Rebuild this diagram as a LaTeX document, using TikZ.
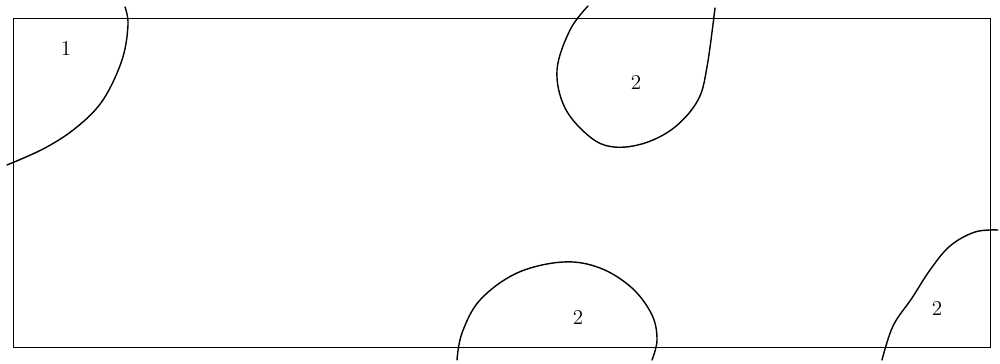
\documentclass[tikz,border=0pt]{standalone}
\usepackage{tikz}

\begin{document}
\begin{tikzpicture}[
      x=0.02cm, y=-0.02cm,
      frame/.style={draw, line width=0.5pt},
      boundary/.style={draw, line width=0.8pt, line cap=round},
      region/.style={font=\large, inner sep=1pt}
    ]
      \useasboundingbox (0,0) rectangle (1000,364);

      % Outer frame
      \draw[frame] (13,18) rectangle (990,347);

      % Boundaries
      \draw[boundary] plot[smooth, tension=0.6] coordinates {
        (125,7) (128,25) (122,60) (103,100) (77,127) (45,148) (7,165)};
      \draw[boundary] plot[smooth, tension=0.6] coordinates {
        (588,6) (570,30) (557,70) (565,108) (590,137) (614,147)
        (645,143) (675,127) (698,100) (707,67) (715,8)};
      \draw[boundary] plot[smooth, tension=0.6] coordinates {
        (457,360) (462,333) (480,300) (517,273) (563,262) (600,268)
        (632,288) (652,315) (657,340) (652,360)};
      \draw[boundary] plot[smooth, tension=0.6] coordinates {
        (998,230) (975,232) (950,246) (930,270) (912,298)
        (893,326) (882,360)};

      % Region labels
      \node[region] (r1) at (66,48) {1};
      \node[region] (r2top) at (636,82) {2};
      \node[region] (r2bottom) at (578,317) {2};
      \node[region] (r2corner) at (937,308) {2};
    \end{tikzpicture}
\end{document}
